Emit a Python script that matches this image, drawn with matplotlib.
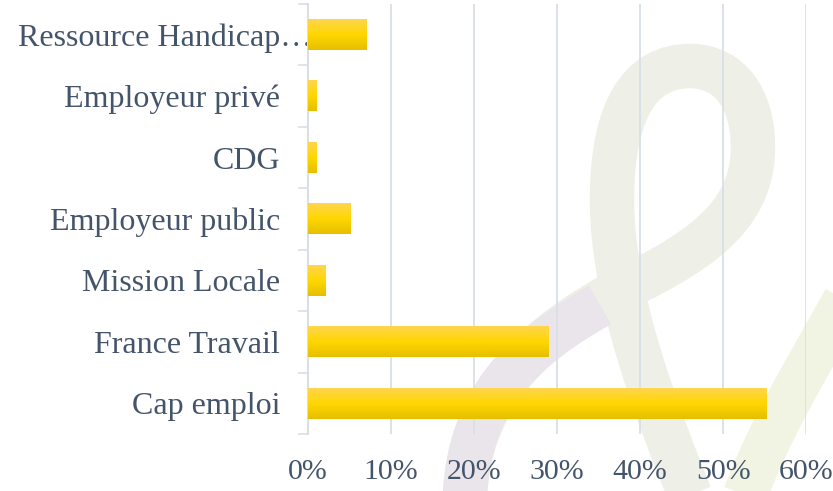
import numpy as np
import matplotlib
matplotlib.use("Agg")
import matplotlib.pyplot as plt
from matplotlib.path import Path
from matplotlib.patches import PathPatch
from matplotlib.colors import LinearSegmentedColormap
from matplotlib.transforms import offset_copy

categories = ["Cap emploi", "France Travail", "Mission Locale", "Employeur public",
              "CDG", "Employeur privé", "Ressource Handicap…"]
shares = [0.552, 0.29, 0.021, 0.051, 0.01, 0.01, 0.07]
xticks = [0, 0.1, 0.2, 0.3, 0.4, 0.5, 0.6]
xticklabels = ["0%", "10%", "20%", "30%", "40%", "50%", "60%"]

W, H = 833, 491
TXT = "#44546a"
GRID = "#dadfe6"
FS = 23

plt.rcParams["font.family"] = ["Liberation Serif", "DejaVu Serif"]
fig = plt.figure(figsize=(W / 100, H / 100), dpi=100)


def px(x, y):
    return (x / W, 1 - y / H)


def stroke(points, color, lw):
    verts = [px(*p) for p in points]
    codes = [Path.MOVETO] + [Path.CURVE4] * (len(verts) - 1)
    fig.patches.append(PathPatch(Path(verts, codes), fill=False, ec=color, lw=lw,
                                 capstyle="butt", transform=fig.transFigure, zorder=0))


# faint watermark logo in the background
stroke([(465, 495), (470, 380), (560, 320), (640, 280),
        (720, 240), (760, 200), (752, 130),
        (745, 80), (715, 66), (690, 66),
        (640, 66), (612, 110), (612, 200),
        (612, 300), (660, 420), (690, 495)], "#eeefe7", 32)
stroke([(465, 495), (470, 400), (520, 350), (600, 305)], "#eae5eb", 32)
stroke([(845, 300), (800, 380), (770, 430), (745, 495)], "#f1f4e2", 32)

ax = fig.add_axes([308 / W, 1 - 434 / H, (806 - 308) / W, 430 / H])
ax.set_zorder(2)
ax.patch.set_alpha(0)

y = np.arange(len(categories))
bars = ax.barh(y, shares, height=0.5, color="none", zorder=3)
grad = LinearSegmentedColormap.from_list("gold", ["#e6bf00", "#ffd700", "#ffd54f"])
g = np.linspace(0, 1, 64).reshape(-1, 1)
for b in bars:
    x0, y0 = b.get_x(), b.get_y()
    ax.imshow(g, cmap=grad, aspect="auto", origin="lower", zorder=3,
              extent=[x0, x0 + b.get_width(), y0, y0 + b.get_height()])

ax.set_xlim(0, 0.6)
ax.set_ylim(-0.5, len(categories) - 0.5)
ax.set_xticks(xticks)
ax.set_xticklabels(xticklabels)
ax.set_yticks(y)
# the long last label overflows under the bar, as in the source chart
ax.set_yticklabels(categories[:-1] + [""])
tr = offset_copy(ax.get_yaxis_transform(), fig=fig, x=3, y=0, units="points")
ax.text(0, y[-1], categories[-1], transform=tr, ha="right", va="center_baseline",
        fontsize=FS, color=TXT, zorder=2, clip_on=False)
ax.set_yticks(np.arange(-0.5, len(categories)), minor=True)
ax.tick_params(axis="x", length=0, pad=18, labelsize=21.5, labelcolor=TXT)
ax.tick_params(axis="y", which="major", length=0, pad=20, labelsize=FS, labelcolor=TXT)
ax.tick_params(axis="y", which="minor", length=7, width=1.2, color=GRID)
ax.grid(axis="x", color=GRID, lw=1.3, zorder=1)
for s in ["top", "right", "bottom"]:
    ax.spines[s].set_visible(False)
ax.spines["left"].set_color(GRID)
ax.spines["left"].set_linewidth(1.5)
ax.set_axisbelow(True)

fig.savefig("out.png", dpi=100)
